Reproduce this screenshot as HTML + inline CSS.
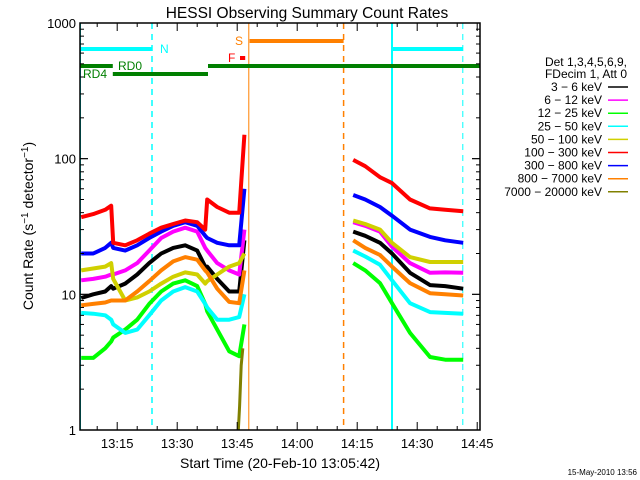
<!DOCTYPE html>
<html><head><meta charset="utf-8"><style>
body{margin:0;background:#fff}
svg{display:block;font-family:"Liberation Sans",sans-serif}
</style></head><body>
<svg id="c" width="640" height="480" xmlns="http://www.w3.org/2000/svg">
<defs><clipPath id="pc"><rect x="80" y="23" width="400" height="407"/></clipPath></defs>
<rect width="640" height="480" fill="#fff"/>
<text x="307" y="18" font-size="15.5" text-anchor="middle">HESSI Observing Summary Count Rates</text>
<text x="280" y="468" font-size="14" text-anchor="middle">Start Time (20-Feb-10 13:05:42)</text>
<text transform="translate(33,226) rotate(-90)" font-size="14" text-anchor="middle">Count Rate (s<tspan dy="-5" font-size="10">−1</tspan><tspan dy="5"> detector</tspan><tspan dy="-5" font-size="10">−1</tspan><tspan dy="5">)</tspan></text>
<text x="637" y="475" font-size="8" text-anchor="end">15-May-2010 13:56</text>
<g id="marks" clip-path="url(#pc)"></g>
<g id="axes"></g>
<g id="legend"></g>
</svg>
<script>
// data
const preTimes = [6,9,12,13.5,14,17,20,23,26,29,32,35,37,37.5,40,43,45.5,46.8];
const postTimes = [74,77,80.7,83.7,88.2,93.2,97,101.5];
const blackPre = [9.4,10,10.5,11.5,11,12,14,17,20,22,23,21,16,16,13,10.5,10.5,25];
const magentaPre = [12.7,13,13.5,14,14,15,17,21,26,29,31,29,22,21,17,15,14,30];
const greenPre = [3.4,3.4,4,4.5,4.8,5.5,6.5,8.5,10.5,12,12.7,11.5,8.5,7.5,5.5,3.8,3.5,6];
const cyanPre = [7.3,7.2,7,6.5,6,5.2,5.5,7,9,10.5,11.3,10.5,8.5,8,6.5,6.5,6.8,10];
const yellowPre = [15,15.5,16,17,13,9,9.5,10.5,12,13.5,14.5,14,12,12.5,14,16,17,20];
const redPre = [37,39,42,45,24,23,25,28,31,33,35,34,30,50,44,40,40,150];
const bluePre = [20,20,22,24,22,21,23,26,29,32,34,32,27,26,24,23,23,60];
const orangePre = [8.3,8.5,8.7,9,9,9,10.5,12.5,15,17.5,18.8,18,15,14.5,11,8.8,8.6,15];
const blackPost = [29,27,24,20,14.4,11.7,11.5,11];
const magentaPost = [34,32,29,22.4,17,14.4,14.5,14.4];
const greenPost = [17,15,12.1,8.6,5.2,3.45,3.3,3.3];
const cyanPost = [21,19,16.5,12.7,8.6,7.4,7.3,7.2];
const yellowPost = [35,33,30,24,18.8,17.3,17.3,17.3];
const redPost = [98,88,73,66,50,43,42,41];
const bluePost = [54,50,44,38,30,26.5,25,24];
const orangePost = [25,22,19.5,16,12.1,10.2,10,9.8];
const oliveTimes = [45.2,45.6,46,46.4];
const oliveValues = [0.9,1.5,3,4];
const xTickMinutes = [15,30,45,60,75,90,105];
const xTickLabels = ["13:15","13:30","13:45","14:00","14:15","14:30","14:45"];
const yTickValues = [1,10,100,1000];
const yTickLabels = ["1","10","100","1000"];
const legendLabels = ["3 − 6 keV","6 − 12 keV","12 − 25 keV","25 − 50 keV","50 − 100 keV","100 − 300 keV","300 − 800 keV","800 − 7000 keV","7000 − 20000 keV"];

const X0=80,X1=480,Y0=23,Y1=430,T0=5.7;
const xs=t=>X0+(t-T0)*4;
const ys=v=>Y1-Math.log10(v)*(Y1-Y0)/3;
const NS="http://www.w3.org/2000/svg";
function mk(tag,attrs,parent){const e=document.createElementNS(NS,tag);for(const k in attrs)e.setAttribute(k,attrs[k]);parent.appendChild(e);return e;}
const marks=document.getElementById('marks'),axes=document.getElementById('axes'),legend=document.getElementById('legend');

const vlines=[[5.7,"#00ffff","",2],[23.7,"#00ffff","6,5",1.5],[47.9,"#ff8000","",1],[71.6,"#ff8000","6,5",1.5],[83.7,"#00ffff","",2],[101.4,"#00ffff","6,5",1]];
vlines.forEach(v=>{const l=mk('line',{x1:xs(v[0]),x2:xs(v[0]),y1:Y0,y2:Y1,stroke:v[1],'stroke-width':v[3],'stroke-dasharray':v[2]},marks);

});

const bars=[[5.7,23.7,49,"#00ffff"],[83.7,101.4,49,"#00ffff"],[5.7,13.9,66,"#007f00"],[37.7,105.7,66,"#007f00"],[13.9,37.7,74,"#007f00"],[48.1,71.6,41,"#ff8000"],[45.7,47.0,58,"#ff0000"]];
bars.forEach(b=>{const l=mk('line',{x1:xs(b[0]),x2:xs(b[1]),y1:b[2],y2:b[2],stroke:b[3],'stroke-width':4},marks);

});
const blabels=[[160,53,"N","#00ffff"],[118,70,"RD0","#007f00"],[83,78,"RD4","#007f00"],[235,45,"S","#ff8000"],[228,62,"F","#ff0000"]];
blabels.forEach(b=>{const t=mk('text',{x:b[0],y:b[1],fill:b[3],'font-size':12},marks);t.textContent=b[2];

});

const series=[
 ["black",blackPre,blackPost,"#000000"],["magenta",magentaPre,magentaPost,"#ff00ff"],["green",greenPre,greenPost,"#00ff00"],
 ["cyan",cyanPre,cyanPost,"#00ffff"],["yellow",yellowPre,yellowPost,"#d0d000"],["orange",orangePre,orangePost,"#ff8000"],
 ["blue",bluePre,bluePost,"#0000ff"],["red",redPre,redPost,"#ff0000"]];
function path(ts,vs){return ts.map((t,i)=>(i?'L':'M')+xs(t).toFixed(1)+','+ys(vs[i]).toFixed(1)).join('');}
series.forEach(s=>{
 const p1=mk('path',{d:path(preTimes,s[1]),fill:'none',stroke:s[3],'stroke-width':4,'stroke-linejoin':'round'},marks);
 
 
 const p2=mk('path',{d:path(postTimes,s[2]),fill:'none',stroke:s[3],'stroke-width':4,'stroke-linejoin':'round'},marks);
 
 
});
const po=mk('path',{d:path(oliveTimes,oliveValues),fill:'none',stroke:'#808000','stroke-width':3},marks);



const box=mk('rect',{x:X0,y:Y0,width:X1-X0,height:Y1-Y0,fill:'none',stroke:'#000','stroke-width':1.5},axes);


for(let m=10;m<=105;m+=5){const x=xs(m);if(x<X0||x>X1)continue;const L=(m%15==0)?8:4;
 mk('line',{x1:x,x2:x,y1:Y1,y2:Y1-L,stroke:'#000'},axes);mk('line',{x1:x,x2:x,y1:Y0,y2:Y0+L,stroke:'#000'},axes);}
xTickMinutes.forEach((m,i)=>{const t=mk('text',{x:xs(m),y:Y1+18,'font-size':13,'text-anchor':'middle'},axes);t.textContent=xTickLabels[i];
 
 });
for(let d=0;d<3;d++)for(let k=1;k<=10;k++){const v=k*Math.pow(10,d);const y=ys(v);const L=(k==1||k==10)?8:4;
 mk('line',{x1:X0,x2:X0+L,y1:y,y2:y,stroke:'#000'},axes);mk('line',{x1:X1,x2:X1-L,y1:y,y2:y,stroke:'#000'},axes);}
yTickValues.forEach((v,i)=>{const t=mk('text',{x:X0-4,y:ys(v)+5,'font-size':13,'text-anchor':'end'},axes);t.textContent=yTickLabels[i];
 
 });

const lcolors=["#000000","#ff00ff","#00ff00","#00ffff","#d0d000","#ff0000","#0000ff","#ff8000","#808000"];
[["Det 1,3,4,5,6,9,",66],["FDecim 1, Att 0",78]].forEach(h=>{const t=mk('text',{x:627,y:h[1],'font-size':12,'text-anchor':'end'},legend);t.textContent=h[0];
 
 });
legendLabels.forEach((lab,i)=>{const y=87+i*13.1;
 const t=mk('text',{x:602,y:y+4,'font-size':12,'text-anchor':'end'},legend);t.textContent=lab;
 
 
 const l=mk('line',{x1:608,x2:628,y1:y,y2:y,stroke:lcolors[i],'stroke-width':1.5},legend);
 
 });
</script>
</body></html>
